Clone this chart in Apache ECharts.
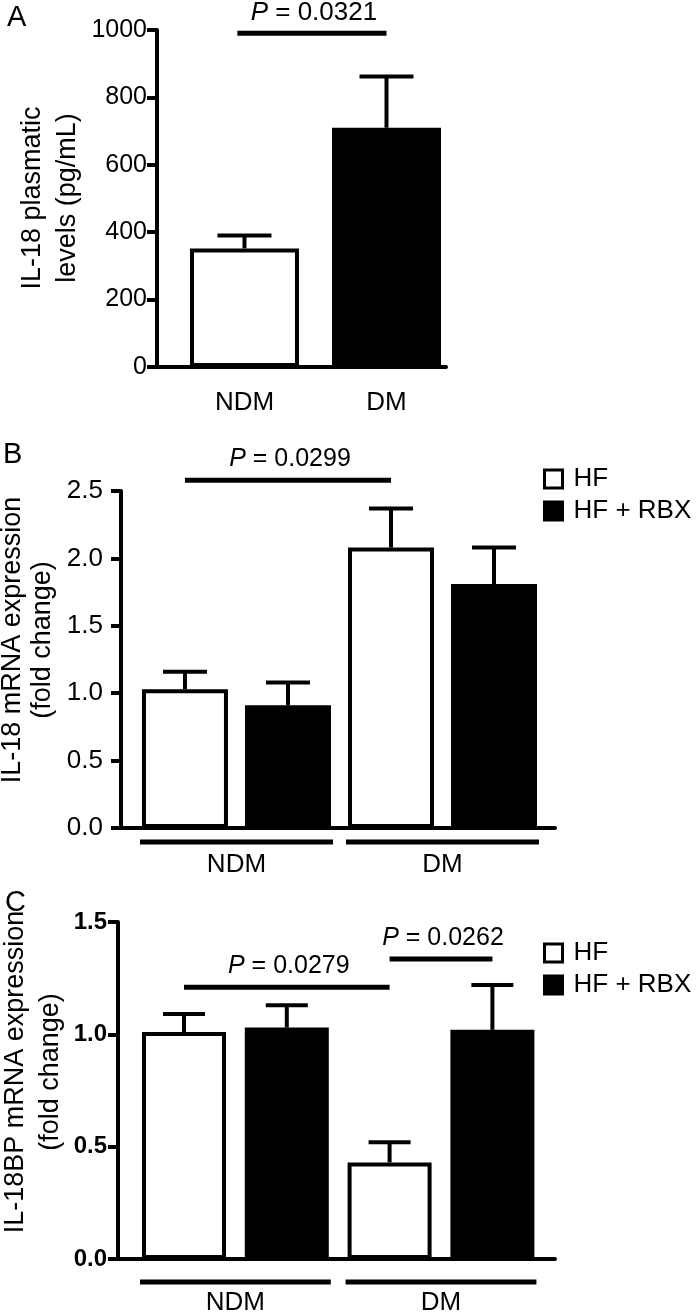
<!DOCTYPE html>
<html><head><meta charset="utf-8">
<script src="https://cdn.jsdelivr.net/npm/echarts@6/dist/echarts.min.js"></script>
<style>html,body{margin:0;padding:0;background:#fff}#c{width:700px;height:1316px}</style>
</head><body><div id="c"></div>
<script>
// ---------- data ----------
const groupsA = ['NDM', 'DM'];
const il18Plasma = [352, 710];
const il18PlasmaErr = [390, 862];
const yTicksA = [0, 200, 400, 600, 800, 1000];

const groups = ['NDM', 'DM'];
const treatments = ['HF', 'HF + RBX'];
const il18mRNA_HF = [1.03, 2.08];
const il18mRNA_HF_err = [1.16, 2.37];
const il18mRNA_RBX = [0.91, 1.81];
const il18mRNA_RBX_err = [1.08, 2.08];
const yTicksB = [0, 0.5, 1.0, 1.5, 2.0, 2.5];

const il18bp_HF = [1.01, 0.43];
const il18bp_HF_err = [1.09, 0.52];
const il18bp_RBX = [1.03, 1.02];
const il18bp_RBX_err = [1.13, 1.22];
const yTicksC = [0, 0.5, 1.0, 1.5];

// significance brackets: [from position, to position, height, P value]
const bracketsA = [[-0.05, 1, 990, '0.0321']];
const bracketsB = [[0, 2, 2.58, '0.0299']];
const bracketsC = [[0, 2, 1.21, '0.0279'], [2, 3, 1.335, '0.0262']];

const titleA = 'IL-18 plasmatic\nlevels (pg/mL)';
const titleB = 'IL-18 mRNA expression\n(fold change)';
const titleC = 'IL-18BP mRNA expression\n(fold change)';

// ---------- helpers ----------
const FONT = '"Liberation Sans", Arial, Helvetica, sans-serif';
const step = t => t[1] - t[0];

function pairData(vals, errs, offset) {
  return vals.map((v, g) => [g * 2 + offset, v, errs[g]]);
}

function errRender(capHalf) {
  return function (params, api) {
    const x = api.value(0), v = api.value(1), e = api.value(2);
    const p0 = api.coord([x, v]), p1 = api.coord([x, e]);
    return {
      type: 'group', children: [
        { type: 'line', shape: { x1: p0[0], y1: p0[1], x2: p1[0], y2: p1[1] }, style: { stroke: '#000', lineWidth: 4 } },
        { type: 'line', shape: { x1: p1[0] - capHalf, y1: p1[1], x2: p1[0] + capHalf, y2: p1[1] }, style: { stroke: '#000', lineWidth: 4 } }
      ]
    };
  };
}

function bracketRender(list, fontSize) {
  return function (params, api) {
    const b = list[params.dataIndex];
    const p1 = api.coord([b[0], b[2]]), p2 = api.coord([b[1], b[2]]);
    return {
      type: 'group', children: [
        { type: 'line', shape: { x1: p1[0], y1: p1[1], x2: p2[0], y2: p2[1] }, style: { stroke: '#000', lineWidth: 5 } },
        { type: 'text', x: (p1[0] + p2[0]) / 2 + 2, y: p1[1] - 21,
          style: { text: '{i|P} = ' + b[3], fontSize: fontSize, fontFamily: FONT, fill: '#000', align: 'center', verticalAlign: 'middle',
            rich: { i: { fontStyle: 'italic', fontSize: fontSize, fontFamily: FONT, fill: '#000' } } } }
      ]
    };
  };
}

function groupRender(names, halfBar, lineOff, labelOff, fontSize, drawLine) {
  return function (params, api) {
    const a = api.coord([api.value(0), 0]), b = api.coord([api.value(1), 0]);
    const ch = [];
    if (drawLine) ch.push({ type: 'line', shape: { x1: a[0] - halfBar, y1: a[1] + lineOff, x2: b[0] + halfBar, y2: a[1] + lineOff }, style: { stroke: '#000', lineWidth: 5 } });
    ch.push({ type: 'text', x: (a[0] + b[0]) / 2, y: a[1] + labelOff,
      style: { text: names[params.dataIndex], fontSize: fontSize, fontFamily: FONT, fill: '#000', align: 'center', verticalAlign: 'middle' } });
    return { type: 'group', children: ch };
  };
}

function yAxisBase(ticks, gridIndex, o) {
  return {
    type: 'value', gridIndex: gridIndex, min: ticks[0], max: ticks[ticks.length - 1], interval: step(ticks),
    axisLine: { show: true, onZero: false, lineStyle: { color: '#000', width: 4 } },
    axisTick: { show: true, length: 10, lineStyle: { color: '#000', width: 4 } },
    splitLine: { show: false },
    axisLabel: { color: '#000', fontSize: o.fontSize, fontFamily: FONT, fontWeight: o.bold ? 'bold' : 'normal', margin: o.margin,
      formatter: o.fmt }
  };
}
function xAxisBase(gridIndex, min, max) {
  return {
    type: 'value', gridIndex: gridIndex, min: min, max: max,
    axisLine: { show: true, onZero: false, lineStyle: { color: '#000', width: 4 } },
    axisTick: { show: false }, axisLabel: { show: false }, splitLine: { show: false }
  };
}
function vTitle(text, x, y, lh) {
  return { type: 'text', x: x, y: y, rotation: Math.PI / 2,
    style: { text: text, fontSize: 27, fontFamily: FONT, fill: '#000', align: 'center', verticalAlign: 'middle', lineHeight: lh } };
}

const chart = echarts.init(document.getElementById('c'), null, { renderer: 'canvas' });

const barStyleW = { color: '#fff', borderColor: '#000', borderWidth: 4 };
const barStyleB = { color: '#000', borderColor: '#000', borderWidth: 4 };

const legendBase = {
  orient: 'vertical', left: 538, itemWidth: 18, itemHeight: 18, itemGap: 6, icon: 'rect',
  data: treatments, selectedMode: false,
  itemStyle: { borderColor: '#000', borderWidth: 3 },
  textStyle: { color: '#000', fontSize: 26, fontFamily: FONT, padding: [0, 0, 0, 6] }
};

const option = {
  backgroundColor: '#fff',
  animation: false,
  textStyle: { fontFamily: FONT },
  grid: [
    { left: 157, top: 30, width: 289, height: 337 },
    { left: 121, top: 491, width: 434, height: 337 },
    { left: 118, top: 922, width: 437, height: 337 }
  ],
  xAxis: [
    xAxisBase(0, -0.616, 1.419),
    xAxisBase(1, -0.621, 3.592),
    xAxisBase(2, -0.642, 3.609)
  ],
  yAxis: [
    yAxisBase(yTicksA, 0, { fontSize: 25, margin: 10, fmt: v => String(v) }),
    yAxisBase(yTicksB, 1, { fontSize: 26, margin: 18, fmt: v => v.toFixed(1) }),
    yAxisBase(yTicksC, 2, { fontSize: 24, bold: true, margin: 11, fmt: v => v.toFixed(1) })
  ],
  legend: [
    Object.assign({}, legendBase, { top: 461 }),
    Object.assign({}, legendBase, { top: 935 })
  ],
  graphic: [
    { type: 'text', left: 7, top: 3, style: { text: 'A', fontSize: 29, fontFamily: FONT, fill: '#000' } },
    { type: 'text', left: 3, top: 440, style: { text: 'B', fontSize: 29, fontFamily: FONT, fill: '#000' } },
    { type: 'text', left: 5, top: 888, style: { text: 'C', fontSize: 29, fontFamily: FONT, fill: '#000' } },
    vTitle(titleA, 50, 198, 35),
    vTitle(titleB, 28, 640, 30),
    vTitle(titleC, 33, 1072, 35)
  ],
  series: [
    // ----- panel A -----
    { type: 'bar', name: 'A', xAxisIndex: 0, yAxisIndex: 0, barWidth: 109,
      data: il18Plasma.map((v, i) => ({ value: [i, v], itemStyle: i === 0 ? barStyleW : barStyleB })) },
    { type: 'custom', xAxisIndex: 0, yAxisIndex: 0, renderItem: errRender(27), z: 5,
      data: il18Plasma.map((v, i) => [i, v, il18PlasmaErr[i]]) },
    { type: 'custom', xAxisIndex: 0, yAxisIndex: 0, renderItem: bracketRender(bracketsA, 26), clip: false,
      data: bracketsA.map(b => [b[0], b[2]]) },
    { type: 'custom', xAxisIndex: 0, yAxisIndex: 0, renderItem: groupRender(groupsA, 0, 0, 36, 26, false), clip: false,
      data: groupsA.map((g, i) => [i, i]) },
    // ----- panel B -----
    { type: 'bar', name: treatments[0], xAxisIndex: 1, yAxisIndex: 1, barWidth: 86, barGap: '-100%',
      itemStyle: barStyleW, data: pairData(il18mRNA_HF, il18mRNA_HF_err, 0).map(d => [d[0], d[1]]) },
    { type: 'bar', name: treatments[1], xAxisIndex: 1, yAxisIndex: 1, barWidth: 86, barGap: '-100%',
      itemStyle: barStyleB, data: pairData(il18mRNA_RBX, il18mRNA_RBX_err, 1).map(d => [d[0], d[1]]) },
    { type: 'custom', xAxisIndex: 1, yAxisIndex: 1, renderItem: errRender(22), z: 5,
      data: pairData(il18mRNA_HF, il18mRNA_HF_err, 0).concat(pairData(il18mRNA_RBX, il18mRNA_RBX_err, 1)) },
    { type: 'custom', xAxisIndex: 1, yAxisIndex: 1, renderItem: bracketRender(bracketsB, 25), clip: false,
      data: bracketsB.map(b => [b[0], b[2]]) },
    { type: 'custom', xAxisIndex: 1, yAxisIndex: 1, renderItem: groupRender(groups, 45, 14, 37, 26, true), clip: false,
      data: groups.map((g, i) => [i * 2, i * 2 + 1]) },
    // ----- panel C -----
    { type: 'bar', name: treatments[0], xAxisIndex: 2, yAxisIndex: 2, barWidth: 84, barGap: '-100%',
      itemStyle: barStyleW, data: pairData(il18bp_HF, il18bp_HF_err, 0).map(d => [d[0], d[1]]) },
    { type: 'bar', name: treatments[1], xAxisIndex: 2, yAxisIndex: 2, barWidth: 84, barGap: '-100%',
      itemStyle: barStyleB, data: pairData(il18bp_RBX, il18bp_RBX_err, 1).map(d => [d[0], d[1]]) },
    { type: 'custom', xAxisIndex: 2, yAxisIndex: 2, renderItem: errRender(21), z: 5,
      data: pairData(il18bp_HF, il18bp_HF_err, 0).concat(pairData(il18bp_RBX, il18bp_RBX_err, 1)) },
    { type: 'custom', xAxisIndex: 2, yAxisIndex: 2, renderItem: bracketRender(bracketsC, 25), clip: false,
      data: bracketsC.map(b => [b[0], b[2]]) },
    { type: 'custom', xAxisIndex: 2, yAxisIndex: 2, renderItem: groupRender(groups, 44, 23, 44, 26, true), clip: false,
      data: groups.map((g, i) => [i * 2, i * 2 + 1]) }
  ]
};
chart.setOption(option);
</script>
</body></html>
